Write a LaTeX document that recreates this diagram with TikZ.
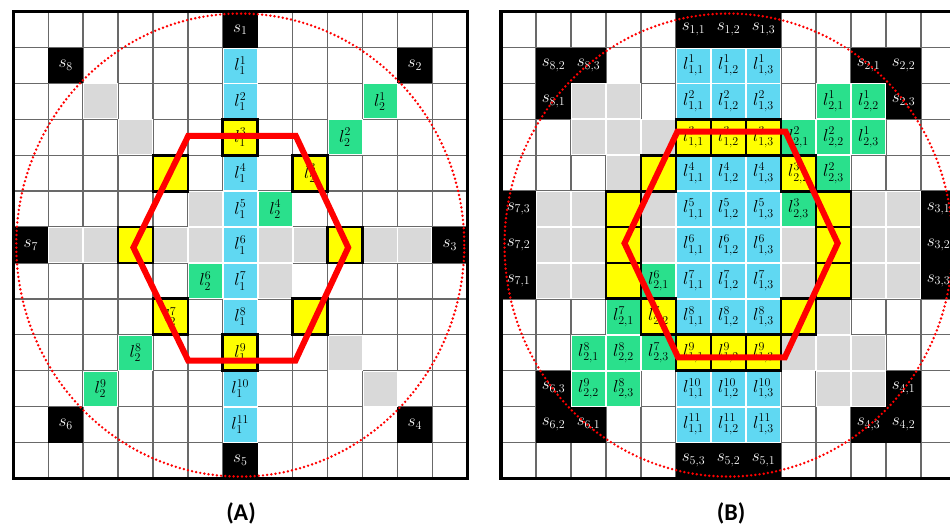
\documentclass[tikz,border=0pt]{standalone}
\usepackage{fontspec}
\newfontfamily\capfont{Carlito}
\definecolor{cellblue}{RGB}{96,216,242}
\definecolor{cellgreen}{RGB}{42,224,140}
\definecolor{cellgray}{RGB}{217,217,217}
\definecolor{gridgray}{RGB}{105,105,105}
\definecolor{hityellow}{RGB}{255,255,0}
\tikzset{
  gridline/.style={draw=gridgray, line width=1.4pt},
  softcell/.style={draw=white, line width=0.9pt},
  hitcell/.style={fill=hityellow, draw=black, line width=2.8pt},
  frame/.style={draw=black, line width=3.2pt},
  lbl/.style={inner sep=0pt, font=\fontsize{18.5}{20}\selectfont},
  slbl/.style={lbl, text=white},
  ring/.style={draw=red, line width=2.7pt, dash pattern=on 0pt off 4.2pt, line cap=round},
  hexline/.style={draw=red, line width=6pt, line join=miter},
  caption/.style={inner sep=0pt, font=\capfont\bfseries\fontsize{24}{28}\selectfont},
  panelA/.style={shift={(13.3pt,-11.7pt)}, x=34.92pt, y=-35.9pt},
  panelB/.style={shift={(501pt,-11.7pt)}, x=35pt, y=-35.9pt}
}
\newcommand\softfill[3]{%
  \filldraw[softcell, fill=#1] ([xshift=.45pt,yshift=-.45pt]#2,#3) rectangle ([xshift=-.45pt,yshift=.45pt]#2+1,#3+1);}
\begin{document}
\begin{tikzpicture}
\useasboundingbox (0,0) rectangle (950pt,-526pt);
\fill[white] (0,0) rectangle (950pt,-526pt);

% ---------------- left panel: single lines ----------------
\begin{scope}[panelA]
  \foreach \i in {1,...,12} {
    \draw[gridline] (\i,0) -- (\i,13);
    \draw[gridline] (0,\i) -- (13,\i);
  }
  \foreach \c/\r in {2/2,3/3,5/5,7/7,9/9,10/10,1/6,2/6,4/6,5/6,7/6,8/6,10/6,11/6}
    {\softfill{cellgray}{\c}{\r}}
  \foreach \r in {1,2,4,5,6,7,8,10,11}
    {\softfill{cellblue}{6}{\r}}
  \foreach \c/\r in {10/2,9/3,7/5,5/7,3/9,2/10}
    {\softfill{cellgreen}{\c}{\r}}
  \foreach \c/\r in {6/0,11/1,12/6,11/11,6/12,1/11,0/6,1/1}
    \fill[black] (\c,\r) rectangle (\c+1,\r+1);
  \foreach \c/\r in {6/3,8/4,4/4,3/6,9/6,4/8,8/8,6/9}
    \filldraw[hitcell] (\c,\r) rectangle (\c+1,\r+1);
  \draw[frame] (0,0) rectangle (13,13);
  % labels
  \foreach \c/\r/\k in {6/0/1,11/1/2,12/6/3,11/11/4,6/12/5,1/11/6,0/6/7,1/1/8}
    \node[slbl] (sa\k) at (\c+.5,\r+.5) {$s_{\k}$};
  \foreach \r in {1,...,11}
    \node[lbl] (la1-\r) at (6.5,\r+.5) {$l_1^{\r}$};
  \foreach \c/\r/\k in {10/2/1,9/3/2,8/4/3,7/5/4,5/7/6,4/8/7,3/9/8,2/10/9}
    \node[lbl] (la2-\k) at (\c+.5,\r+.5) {$l_2^{\k}$};
  \draw[ring] (6.5,6.5) ellipse [x radius=224pt, y radius=231.5pt];
  \draw[hexline] (5.01,3.46) -- (8.09,3.46) -- (9.59,6.57) -- (8.08,9.72)
    -- (5.01,9.72) -- (3.44,6.57) -- cycle;
\end{scope}

% ---------------- right panel: triple lines ----------------
\begin{scope}[panelB]
  \foreach \i in {1,...,12} {
    \draw[gridline] (\i,0) -- (\i,13);
    \draw[gridline] (0,\i) -- (13,\i);
  }
  \foreach \c/\r in {2/2,3/2,2/3,3/3,4/3,3/4,1/5,2/5,4/5,10/5,11/5,1/6,2/6,4/6,8/6,10/6,11/6,
                     1/7,2/7,8/7,10/7,11/7,9/8,8/9,9/9,10/9,9/10,10/10}
    {\softfill{cellgray}{\c}{\r}}
  \foreach \c in {5,6,7}
    \foreach \r in {1,2,4,5,6,7,8,10,11}
      {\softfill{cellblue}{\c}{\r}}
  \foreach \c/\r in {9/2,10/2,8/3,9/3,10/3,9/4,8/5,4/7,3/8,2/9,3/9,4/9,2/10,3/10}
    {\softfill{cellgreen}{\c}{\r}}
  \foreach \c/\r in {5/0,6/0,7/0,1/1,2/1,1/2,10/1,11/1,11/2,12/5,12/6,12/7,
                     11/10,11/11,10/11,5/12,6/12,7/12,2/11,1/11,1/10,0/7,0/6,0/5}
    \fill[black] (\c,\r) rectangle (\c+1,\r+1);
  \foreach \c/\r in {5/3,6/3,7/3,4/4,8/4,3/5,9/5,3/6,9/6,3/7,9/7,4/8,8/8,5/9,6/9,7/9}
    \filldraw[hitcell] (\c,\r) rectangle (\c+1,\r+1);
  \draw[frame] (0,0) rectangle (13,13);
  % labels
  \foreach \c/\r/\s in {5/0/{1,1},6/0/{1,2},7/0/{1,3},1/1/{8,2},2/1/{8,3},1/2/{8,1},
                        10/1/{2,1},11/1/{2,2},11/2/{2,3},12/5/{3,1},12/6/{3,2},12/7/{3,3},
                        11/10/{4,1},11/11/{4,2},10/11/{4,3},7/12/{5,1},6/12/{5,2},5/12/{5,3},
                        2/11/{6,1},1/11/{6,2},1/10/{6,3},0/7/{7,1},0/6/{7,2},0/5/{7,3}}
    \node[slbl] (sb-\c-\r) at (\c+.5,\r+.5) {$s_{\s}$};
  \foreach \c/\j in {5/1,6/2,7/3}
    \foreach \r in {1,...,11}
      \node[lbl] (lb1-\r-\j) at (\c+.5,\r+.5) {$l^{\r}_{1,\j}$};
  \foreach \c/\r/\k/\j in {9/2/1/1,10/2/1/2,8/3/2/1,9/3/2/2,10/3/1/3,8/4/3/2,9/4/2/3,8/5/3/3,
                           4/7/6/1,3/8/7/1,4/8/7/2,2/9/8/1,3/9/8/2,4/9/7/3,2/10/9/2,3/10/8/3}
    \node[lbl] (lb2-\k-\j) at (\c+.5,\r+.5) {$l^{\k}_{2,\j}$};
  \draw[ring] (6.5,6.5) ellipse [x radius=224pt, y radius=231.5pt];
  \draw[hexline] (5.04,3.34) -- (8.13,3.34) -- (9.62,6.45) -- (8.11,9.63)
    -- (5.06,9.63) -- (3.53,6.45) -- cycle;
\end{scope}

\node[caption] (capA) at (241pt,-513pt) {(A)};
\node[caption] (capB) at (731pt,-513pt) {(B)};
\end{tikzpicture}
\end{document}
